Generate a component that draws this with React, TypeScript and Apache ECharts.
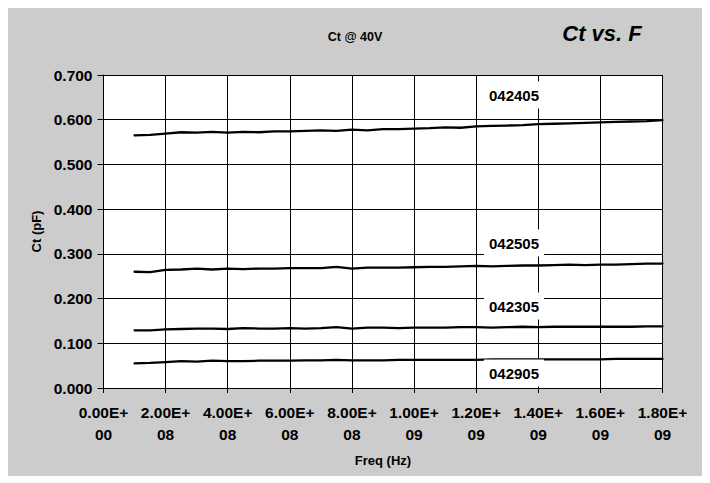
import React, { useEffect, useRef } from "react";
import * as echarts from "echarts";

const freqs = [
  1.0e8, 1.5e8, 2.0e8, 2.5e8, 3.0e8, 3.5e8, 4.0e8, 4.5e8, 5.0e8, 5.5e8, 6.0e8, 6.5e8,
  7.0e8, 7.5e8, 8.0e8, 8.5e8, 9.0e8, 9.5e8, 1.0e9, 1.05e9, 1.1e9, 1.15e9, 1.2e9, 1.25e9,
  1.3e9, 1.35e9, 1.4e9, 1.45e9, 1.5e9, 1.55e9, 1.6e9, 1.65e9, 1.7e9, 1.75e9, 1.8e9,
];

const s042405 = [
  0.565, 0.566, 0.569, 0.572, 0.571, 0.573, 0.571, 0.573, 0.572, 0.574, 0.574, 0.575,
  0.576, 0.575, 0.578, 0.576, 0.579, 0.579, 0.58, 0.581, 0.583, 0.582, 0.585, 0.586,
  0.587, 0.588, 0.59, 0.591, 0.592, 0.593, 0.594, 0.595, 0.596, 0.597, 0.599,
];
const s042505 = [
  0.26, 0.259, 0.264, 0.265, 0.267, 0.265, 0.267, 0.266, 0.267, 0.267, 0.268, 0.268,
  0.268, 0.271, 0.267, 0.269, 0.269, 0.269, 0.27, 0.271, 0.271, 0.272, 0.273, 0.272,
  0.273, 0.274, 0.274, 0.275, 0.276, 0.275, 0.276, 0.276, 0.277, 0.278, 0.278,
];
const s042305 = [
  0.129, 0.129, 0.131, 0.132, 0.133, 0.133, 0.132, 0.134, 0.133, 0.133, 0.134, 0.133,
  0.134, 0.136, 0.133, 0.135, 0.135, 0.134, 0.135, 0.135, 0.135, 0.136, 0.136, 0.135,
  0.136, 0.137, 0.136, 0.137, 0.137, 0.137, 0.137, 0.137, 0.137, 0.138, 0.138,
];
const s042905 = [
  0.055, 0.056, 0.058, 0.06, 0.059, 0.061, 0.06, 0.06, 0.061, 0.061, 0.061, 0.062,
  0.062, 0.063, 0.062, 0.062, 0.062, 0.063, 0.063, 0.063, 0.063, 0.063, 0.063, 0.064,
  0.064, 0.064, 0.064, 0.064, 0.064, 0.064, 0.064, 0.065, 0.065, 0.065, 0.065,
];

const seriesNames = ["042405", "042505", "042305", "042905"];
const seriesValues = [s042405, s042505, s042305, s042905];
const labelPos = [
  [506, 87],
  [506, 235],
  [506, 298],
  [506, 365],
];

function fmtSci(v: number): string {
  if (v === 0) return "0.00E+\n00";
  const e = Math.floor(Math.log10(v) + 1e-9);
  const m = v / Math.pow(10, e);
  return `${m.toFixed(2)}E+\n${String(e).padStart(2, "0")}`;
}

export default function App() {
  const ref = useRef<HTMLDivElement>(null);
  useEffect(() => {
    if (!ref.current) return;
    const chart = echarts.init(ref.current, undefined, { renderer: "svg" });
    const font = "Arial, 'Liberation Sans', sans-serif";
    chart.setOption({
      animation: false,
      backgroundColor: "#cccccc",
      textStyle: { fontFamily: font },
      title: [
        {
          text: "Ct @ 40V",
          left: 342,
          top: 17,
          textAlign: "center",
          textStyle: { fontSize: 12.5, fontWeight: "bold", color: "#000", fontFamily: font },
        },
        {
          text: "Ct vs. F",
          left: 589,
          top: 9,
          textAlign: "center",
          textStyle: {
            fontSize: 22,
            fontWeight: "bold",
            fontStyle: "italic",
            color: "#000",
            fontFamily: font,
          },
        },
      ],
      grid: {
        left: 95.5,
        top: 67,
        width: 559,
        height: 313,
        show: true,
        backgroundColor: "#ffffff",
        borderWidth: 0,
      },
      xAxis: {
        type: "value",
        min: 0,
        max: 1.8e9,
        interval: 2e8,
        name: "Freq (Hz)",
        nameLocation: "middle",
        nameGap: 66,
        nameTextStyle: { fontSize: 13, fontWeight: "bold", color: "#000", fontFamily: font },
        axisLine: { show: true, lineStyle: { color: "#000", width: 1 } },
        axisTick: { show: true, inside: false, length: 5, lineStyle: { color: "#000" } },
        axisLabel: {
          formatter: fmtSci,
          fontSize: 15.5,
          fontWeight: "bold",
          color: "#000",
          lineHeight: 22,
          margin: 13,
          fontFamily: font,
        },
        splitLine: { show: true, lineStyle: { color: "#000", width: 1 } },
      },
      yAxis: {
        type: "value",
        min: 0,
        max: 0.7,
        interval: 0.1,
        name: "Ct (pF)",
        nameLocation: "middle",
        nameGap: 60,
        nameRotate: 90,
        nameTextStyle: { fontSize: 13, fontWeight: "bold", color: "#000", fontFamily: font },
        axisLine: { show: true, lineStyle: { color: "#000", width: 1 } },
        axisTick: { show: true, inside: false, length: 6, lineStyle: { color: "#000" } },
        axisLabel: {
          formatter: (v: number) => v.toFixed(3),
          fontSize: 15.5,
          fontWeight: "bold",
          color: "#000",
          margin: 11,
          fontFamily: font,
        },
        splitLine: { show: true, lineStyle: { color: "#000", width: 1 } },
      },
      series: seriesNames.map((name, i) => ({
        name,
        type: "line",
        showSymbol: false,
        symbol: "none",
        data: freqs.map((f, j) => [f, seriesValues[i][j]]),
        lineStyle: { color: "#000", width: 2.3, cap: "round", join: "round" },
        z: 5,
      })),
      graphic: seriesNames.map((name, i) => ({
        type: "text",
        x: labelPos[i][0],
        y: labelPos[i][1],
        z: 100,
        style: {
          text: name,
          font: `bold 15px ${font}`,
          fill: "#000",
          align: "center",
          verticalAlign: "middle",
          backgroundColor: "#ffffff",
          padding: [6, 5, 6, 5],
        },
      })),
    });
    return () => chart.dispose();
  }, []);
  return <div ref={ref} style={{ width: 694, height: 468 }} />;
}
